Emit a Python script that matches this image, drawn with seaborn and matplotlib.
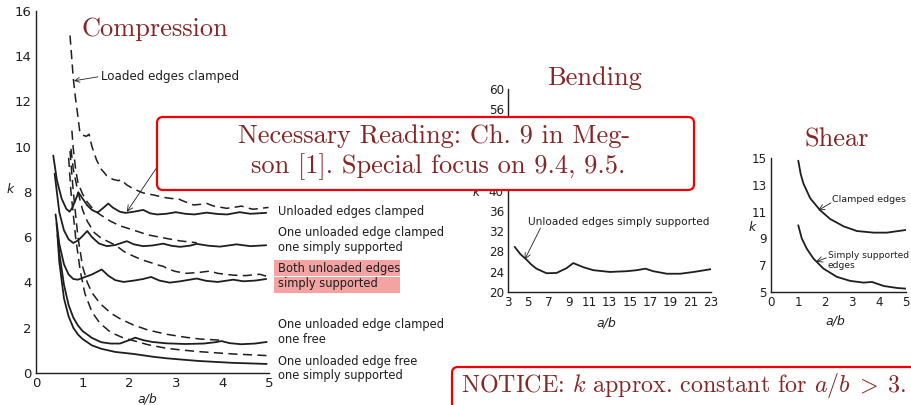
import numpy as np
import pandas as pd
import matplotlib
matplotlib.use("Agg")
import matplotlib.pyplot as plt
from matplotlib.patches import FancyBboxPatch, Rectangle
import seaborn as sns

# ---- Compression (k vs a/b) ----
clamped_a = [0.37, 0.45, 0.55, 0.65, 0.72, 0.78, 0.85, 0.91, 1.0, 1.1, 1.2, 1.32, 1.45, 1.55, 1.65, 1.8, 1.92, 2.1, 2.3,
             2.45, 2.6, 2.8, 3.0, 3.2, 3.4, 3.66, 3.9, 4.1, 4.37, 4.6, 4.94]
clamped_k = [9.6, 8.5, 7.7, 7.25, 7.12, 7.3, 7.65, 7.97, 7.7, 7.4, 7.2, 7.08, 7.3, 7.48, 7.3, 7.12, 7.07, 7.12, 7.2,
             7.05, 7.0, 7.03, 7.1, 7.03, 7.0, 7.08, 7.02, 7.0, 7.1, 7.03, 7.07]

clamp_ss_a = [0.4, 0.5, 0.6, 0.7, 0.8, 0.9, 1.0, 1.1, 1.2, 1.35, 1.52, 1.7, 1.95, 2.1, 2.3, 2.5, 2.73, 2.9, 3.09, 3.3,
              3.45, 3.7, 3.95, 4.2, 4.3, 4.6, 4.94]
clamp_ss_k = [8.8, 7.1, 6.3, 5.9, 5.74, 5.85, 6.05, 6.27, 6.0, 5.72, 5.6, 5.65, 5.82, 5.68, 5.6, 5.63, 5.71, 5.62, 5.57,
              5.62, 5.7, 5.62, 5.58, 5.65, 5.68, 5.6, 5.64]

ss_ss_a = [0.42, 0.5, 0.6, 0.7, 0.8, 0.9, 1.0, 1.2, 1.41, 1.55, 1.7, 1.88, 2.1, 2.3, 2.47, 2.65, 2.87, 3.1, 3.3, 3.45,
           3.65, 3.9, 4.1, 4.23, 4.45, 4.7, 4.94]
ss_ss_k = [7.0, 5.7, 4.8, 4.35, 4.15, 4.12, 4.2, 4.35, 4.57, 4.3, 4.1, 4.02, 4.08, 4.15, 4.24, 4.08, 3.99, 4.05, 4.12,
           4.17, 4.07, 4.02, 4.08, 4.12, 4.05, 4.08, 4.15]

clamp_free_a = [0.44, 0.5, 0.6, 0.7, 0.8, 0.9, 1.0, 1.2, 1.4, 1.6, 1.8, 2.0, 2.13, 2.3, 2.5, 2.8, 3.2, 3.6, 3.85, 3.98,
                4.15, 4.4, 4.7, 4.95]
clamp_free_k = [6.6, 5.3, 3.9, 3.0, 2.45, 2.1, 1.85, 1.55, 1.36, 1.3, 1.3, 1.45, 1.56, 1.45, 1.37, 1.31, 1.28, 1.3, 1.36,
                1.41, 1.32, 1.27, 1.3, 1.37]

free_ss_a = [0.46, 0.5, 0.6, 0.7, 0.8, 0.9, 1.0, 1.2, 1.4, 1.7, 2.1, 2.5, 2.8, 3.2, 3.5, 4.2, 4.95]
free_ss_k = [6.1, 4.9, 3.3, 2.5, 2.0, 1.7, 1.5, 1.22, 1.07, 0.93, 0.84, 0.72, 0.65, 0.58, 0.53, 0.45, 0.40]

lc_clamped_a = [0.73, 0.76, 0.8, 0.85, 0.89, 0.94, 1.0, 1.08, 1.14, 1.2, 1.3, 1.4, 1.52, 1.65, 1.77, 1.82, 1.95, 2.1,
                2.3, 2.52, 2.75, 2.92, 3.02, 3.15, 3.38, 3.55, 3.66, 3.8, 4.09, 4.3, 4.41, 4.55, 4.66, 4.99]
lc_clamped_k = [14.9, 14.1, 13.0, 12.1, 11.47, 10.65, 10.5, 10.45, 10.54, 10.0, 9.4, 9.0, 8.71, 8.55, 8.49, 8.54, 8.3,
                8.12, 7.95, 7.86, 7.75, 7.7, 7.72, 7.6, 7.42, 7.45, 7.49, 7.38, 7.27, 7.33, 7.37, 7.28, 7.23, 7.31]

lc_clamp_ss_a = [0.77, 0.8, 0.85, 0.9, 1.0, 1.1, 1.2, 1.37, 1.6, 1.8, 2.09, 2.4, 2.8, 3.1, 3.45]
lc_clamp_ss_k = [10.7, 9.9, 9.0, 8.4, 7.9, 7.55, 7.3, 7.0, 6.7, 6.5, 6.31, 6.1, 5.94, 5.83, 5.75]

lc_ss_ss_a = [0.75, 0.8, 0.9, 1.0, 1.1, 1.25, 1.4, 1.55, 1.7, 1.9, 2.1, 2.3, 2.5, 2.65, 2.73, 2.85, 3.0, 3.23, 3.5,
              3.73, 3.9, 4.23, 4.5, 4.8, 5.0]
lc_ss_ss_k = [9.9, 9.0, 8.0, 7.2, 6.7, 6.2, 5.95, 5.8, 5.65, 5.35, 5.15, 4.98, 4.85, 4.75, 4.71, 4.58, 4.48, 4.4, 4.44,
              4.5, 4.4, 4.32, 4.3, 4.36, 4.24]

lc_clamp_free_a = [0.73, 0.8, 0.9, 1.0, 1.1, 1.2, 1.37, 1.6, 1.8, 2.09, 2.4, 2.8, 3.2, 3.52, 3.95]
lc_clamp_free_k = [9.8, 8.0, 6.0, 4.7, 4.0, 3.55, 3.08, 2.65, 2.4, 2.12, 1.9, 1.71, 1.58, 1.5, 1.45]

lc_free_ss_a = [0.7, 0.75, 0.85, 0.95, 1.05, 1.2, 1.37, 1.6, 1.85, 2.09, 2.4, 2.8, 3.2, 3.52, 4.23, 4.95]
lc_free_ss_k = [9.5, 8.0, 6.0, 4.5, 3.5, 2.7, 2.2, 1.8, 1.57, 1.43, 1.25, 1.09, 1.0, 0.94, 0.84, 0.77]

# ---- Bending ----
bend_a = [3.66, 4.2, 4.81, 5.3, 5.8, 6.79, 7.78, 8.77, 9.43, 10.4, 11.4, 13.05, 14.7, 15.7, 16.54, 17.3, 18.65, 19.97,
          21.3, 23.0]
bend_k = [28.9, 27.5, 26.4, 25.4, 24.6, 23.7, 23.75, 24.7, 25.7, 24.9, 24.3, 23.95, 24.1, 24.3, 24.6, 24.1, 23.6, 23.6,
          23.95, 24.5]

# ---- Shear ----
shear_cl_a = [1.01, 1.1, 1.2, 1.45, 1.82, 2.19, 2.69, 3.18, 3.8, 4.29, 5.0]
shear_cl_k = [14.8, 13.8, 13.1, 12.0, 11.1, 10.45, 9.9, 9.55, 9.43, 9.43, 9.63]
shear_ss_a = [1.01, 1.14, 1.32, 1.57, 1.94, 2.44, 2.93, 3.43, 3.74, 4.17, 4.67, 5.0]
shear_ss_k = [9.98, 9.0, 8.25, 7.5, 6.75, 6.13, 5.83, 5.7, 5.75, 5.45, 5.3, 5.25]

comp_yticks = [0, 2, 4, 6, 8, 10, 12, 14, 16]
comp_xticks = [0, 1, 2, 3, 4, 5]
bend_xticks = list(range(3, 24, 2))
bend_yticks = list(range(20, 61, 4))
shear_xticks = [0, 1, 2, 3, 4, 5]
shear_yticks = [5, 7, 9, 11, 13, 15]

sns.set_style("white")
plt.rcParams['font.family'] = ['DejaVu Sans']
plt.rcParams['mathtext.fontset'] = 'cm'

W, H = 911, 405
fig = plt.figure(figsize=(W / 100, H / 100), dpi=100)
INK = '#1e1e1e'
DARKRED = '#842626'


def px_axes(x0, y_top, x1, y_bot):
    return fig.add_axes([x0 / W, 1 - y_bot / H, (x1 - x0) / W, (y_bot - y_top) / H])


def style(ax, size, labx, laby, kx, ky):
    for s in ['top', 'right']:
        ax.spines[s].set_visible(False)
    for s in ['left', 'bottom']:
        ax.spines[s].set_color(INK)
        ax.spines[s].set_linewidth(1.0)
    ax.tick_params(direction='in', length=4, width=0.9, color=INK, labelsize=size, labelcolor=INK, pad=3)
    ax.grid(False)
    ax.set_facecolor('none')
    ax.set_xlabel('')
    ax.set_ylabel('')
    ax.text(labx, laby, 'a/b', transform=ax.transAxes, fontsize=9, style='italic', color=INK,
            ha='center', va='center')
    ax.text(kx, ky, 'k', transform=ax.transAxes, fontsize=9, style='italic', color=INK,
            ha='center', va='center')


def curve(ax, a, k, dashed=False, lw=1.3):
    d = pd.DataFrame({'a': a, 'k': k})
    sns.lineplot(data=d, x='a', y='k', ax=ax, color=INK, lw=lw, sort=False, estimator=None,
                 linestyle=(0, (6, 3.5)) if dashed else '-')


arrow = dict(arrowstyle='->', color=INK, lw=0.6, shrinkA=0, shrinkB=0)

# Compression
ax1 = px_axes(36, 10.6, 269, 373)
for a, k in [(clamped_a, clamped_k), (clamp_ss_a, clamp_ss_k), (ss_ss_a, ss_ss_k),
             (clamp_free_a, clamp_free_k), (free_ss_a, free_ss_k)]:
    curve(ax1, a, k)
for a, k in [(lc_clamped_a, lc_clamped_k), (lc_clamp_ss_a, lc_clamp_ss_k), (lc_ss_ss_a, lc_ss_ss_k),
             (lc_clamp_free_a, lc_clamp_free_k), (lc_free_ss_a, lc_free_ss_k)]:
    curve(ax1, a, k, dashed=True, lw=1.1)
ax1.set_xlim(0, 5)
ax1.set_ylim(0, 16)
ax1.set_xticks(comp_xticks)
ax1.set_yticks(comp_yticks)
style(ax1, 9.5, 0.48, -0.072, -0.11, 0.505)
ax1.annotate('Loaded edges clamped', xy=(0.815, 12.9), xytext=(1.4, 13.1), fontsize=8.6, color=INK,
             va='center', ha='left', arrowprops=dict(arrow, relpos=(0, 0.5)))
ax1.annotate('', xy=(1.95, 7.12), xytext=(2.7, 9.4), arrowprops=arrow)

# Bending
ax2 = px_axes(508, 89, 711, 292)
curve(ax2, bend_a, bend_k)
ax2.set_xlim(3, 23)
ax2.set_ylim(20, 60)
ax2.set_xticks(bend_xticks)
ax2.set_yticks(bend_yticks)
style(ax2, 8.6, 0.486, -0.153, -0.157, 0.49)
ax2.text(5.0, 33.8, 'Unloaded edges simply supported', fontsize=7.6, color=INK, va='center', ha='left')
ax2.annotate('', xy=(4.65, 26.4), xytext=(6.2, 32.6), arrowprops=arrow)

# Shear
ax3 = px_axes(771, 158, 906, 292)
curve(ax3, shear_cl_a, shear_cl_k)
curve(ax3, shear_ss_a, shear_ss_k)
ax3.set_xlim(0, 5)
ax3.set_ylim(5, 15)
ax3.set_xticks(shear_xticks)
ax3.set_yticks(shear_yticks)
style(ax3, 8.6, 0.474, -0.22, -0.14, 0.478)
ax3.text(2.25, 11.9, 'Clamped edges', fontsize=6.8, color=INK, va='center', ha='left')
ax3.annotate('', xy=(1.75, 11.09), xytext=(2.22, 11.65), arrowprops=arrow)
ax3.text(2.1, 7.35, 'Simply supported\nedges', fontsize=6.6, color=INK, va='center', ha='left',
         linespacing=1.2)
ax3.annotate('', xy=(1.67, 7.26), xytext=(2.05, 7.55), arrowprops=arrow)

# Overlay in pixel units for labels, titles and boxes
ov = fig.add_axes([0, 0, 1, 1], zorder=10)
ov.set_xlim(0, W)
ov.set_ylim(H, 0)
ov.axis('off')
ov.patch.set_alpha(0)

lab = dict(fontsize=8.3, color=INK, ha='left', va='center')
ov.add_patch(Rectangle((274, 259.5), 126, 16.5, facecolor='#f4a3a3', edgecolor='none'))
ov.add_patch(Rectangle((274, 276.5), 126, 16.5, facecolor='#f4a3a3', edgecolor='none'))
ov.text(278, 211.5, 'Unloaded edges clamped', **lab)
ov.text(278, 232.5, 'One unloaded edge clamped', **lab)
ov.text(278, 247, 'one simply supported', **lab)
ov.text(278, 268.5, 'Both unloaded edges', **lab)
ov.text(278, 283, 'simply supported', **lab)
ov.text(278, 324.5, 'One unloaded edge clamped', **lab)
ov.text(278, 339.5, 'one free', **lab)
ov.text(278, 361, 'One unloaded edge free', **lab)
ov.text(278, 375, 'one simply supported', **lab)

tit = dict(fontsize=19, color=DARKRED, family='cmr10', ha='center', va='center')
ov.text(155, 29, 'Compression', **tit)
ov.text(594, 78, 'Bending', **tit)
ov.text(837, 140, 'Shear', **tit)

ov.add_patch(FancyBboxPatch((157, 117), 537, 73, boxstyle='round,pad=0,rounding_size=6',
                            facecolor='white', edgecolor='#f20000', lw=1.6))
ov.text(434, 136, 'Necessary Reading: Ch. 9 in Meg-', **tit)
ov.text(438, 167, 'son [1]. Special focus on 9.4, 9.5.', **tit)

ov.add_patch(FancyBboxPatch((452, 367), 470, 60, boxstyle='round,pad=0,rounding_size=6',
                            facecolor='white', edgecolor='#f20000', lw=1.6, clip_on=False))
ov.text(461, 386, r'NOTICE: $k$ approx. constant for $a/b\;>\;3$.', fontsize=17.3, color=DARKRED,
        family='cmr10', ha='left', va='center')

fig.savefig('out.png', dpi=100)
